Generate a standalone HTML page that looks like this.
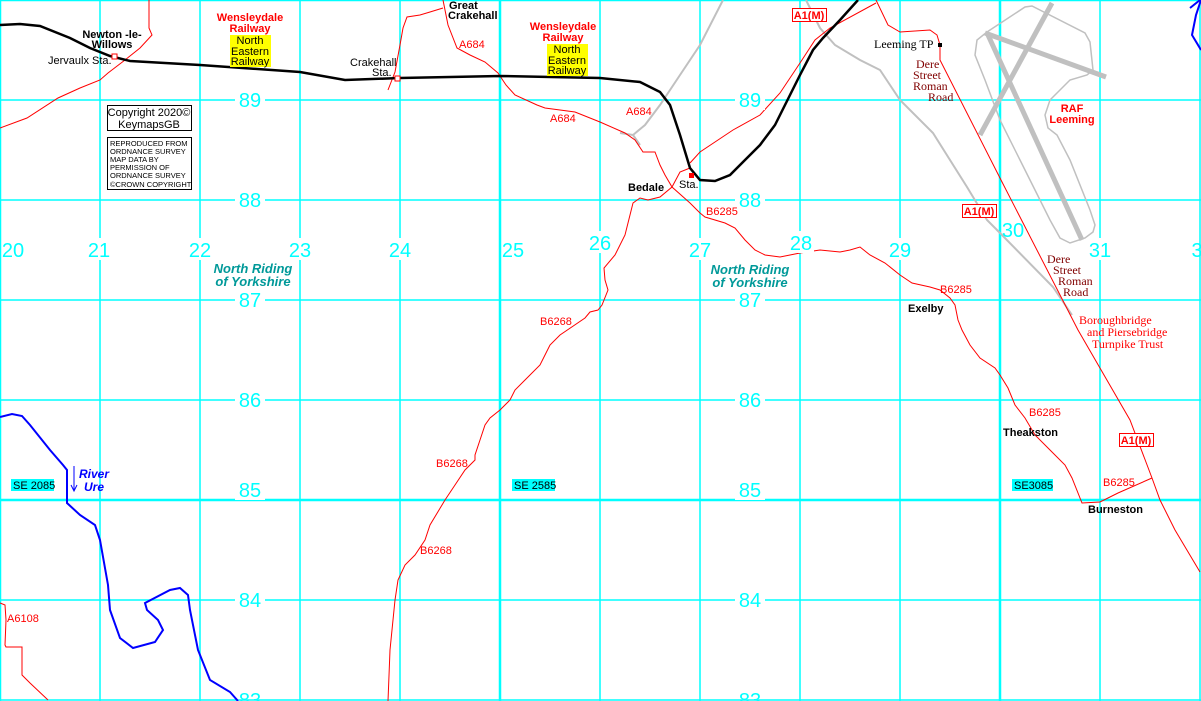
<!DOCTYPE html>
<html><head><meta charset="utf-8"><style>
html,body{margin:0;padding:0;background:#fff;}
svg{display:block;}
text{font-family:"Liberation Sans",sans-serif;}
.n{fill:#00ffff;font-size:20px;text-anchor:middle;}
.nb{fill:#fff;}
.r{fill:#ff0000;font-size:11px;}
.k{fill:#000;font-size:11px;font-weight:bold;}
.s{fill:#000;font-size:11px;}
.m text{fill:#800000;font-size:12px;font-family:"Liberation Serif",serif;}
.m2 text{fill:#ff0000;font-size:12px;font-family:"Liberation Serif",serif;}
</style></head><body>
<svg width="1201" height="701" viewBox="0 0 1201 701" xmlns="http://www.w3.org/2000/svg">
<rect width="1201" height="701" fill="#fff"/>
<g stroke="#00ffff" stroke-width="1.5">
<line x1="100" y1="0" x2="100" y2="701"/><line x1="200" y1="0" x2="200" y2="701"/><line x1="300" y1="0" x2="300" y2="701"/><line x1="400" y1="0" x2="400" y2="701"/><line x1="500" y1="0" x2="500" y2="701" stroke-width="2.5"/><line x1="600" y1="0" x2="600" y2="701"/><line x1="700" y1="0" x2="700" y2="701"/><line x1="800" y1="0" x2="800" y2="701"/><line x1="900" y1="0" x2="900" y2="701"/><line x1="1000" y1="0" x2="1000" y2="701" stroke-width="2.5"/><line x1="1100" y1="0" x2="1100" y2="701"/><line x1="1200" y1="0" x2="1200" y2="701"/><line x1="0.5" y1="0" x2="0.5" y2="701"/>
<line x1="0" y1="0.5" x2="1201" y2="0.5"/><line x1="0" y1="100" x2="1201" y2="100"/><line x1="0" y1="200" x2="1201" y2="200"/><line x1="0" y1="300" x2="1201" y2="300"/><line x1="0" y1="400" x2="1201" y2="400"/><line x1="0" y1="500" x2="1201" y2="500" stroke-width="2.5"/><line x1="0" y1="600" x2="1201" y2="600"/><line x1="0" y1="700" x2="1201" y2="700"/>
</g>
<g fill="none" stroke="#c0c0c0">
<path d="M987,32 L1025,7 L1032,6 L1085,33 L1090,42 L1093,70 L1087,75 L1070,80 L1050,100 L1045,115 L1048,128 L1057,135 L1070,160 L1090,210 L1095,225 L1093,232 L1085,238 L1070,243 L1060,238 L1050,220 L1040,200 L1020,160 L1000,120 L985,80 L975,55 L977,40 Z" stroke-width="1.5"/>
<path d="M985,33 L1106,77 M988,35 L1082,240 M1052,3 L980,135" stroke-width="5"/>
<path d="M723,0 L700,45 L680,75 L660,105 L645,125 L633,135 L640,145 M633,135 L620,133" stroke-width="2"/>
<path d="M806,0 L820,28 L835,45 L860,60 L880,70 L900,100 L933,133 L967,187 L987,220 L1000,233 L1053,287 L1072,315" stroke-width="2"/>
</g>
<g fill="none" stroke="#ff0000" stroke-width="1">
<path d="M0,128 L27,118 L58,98 L80,88 L100,80 L108,73 L125,60 L140,48 L152,35 L149,28 L149,0"/>
<path d="M388,90 L395,72 L400,45 L403,28 L407,17 L420,15 L430,12 L443,8"/>
<path d="M443,0 L445,10 L448,25 L457,48 L470,55 L485,62 L498,73 L506,85 L515,95 L537,105 L545,108 L575,112 L600,122 L625,133 L635,140 L643,152 L655,152 L660,165 L665,175 L672,187 L690,203 L700,213 L705,217 L725,223 L735,228 L745,240 L755,250 L765,255 L780,257 L790,255 L800,253 L820,250 L840,252 L850,250 L860,247 L870,255 L885,263 L900,275 L912,283 L930,287 L940,290 L950,298 L955,305 L958,320 L962,330 L970,345 L980,358 L995,368 L1000,375 L1008,388 L1015,405 L1025,418 L1035,435 L1050,450 L1065,465 L1072,478 L1082,503 L1100,502 L1118,493 L1152,478"/>
<path d="M690,163 L700,152 L733,130 L760,115 L780,93 L800,63 L815,40 L830,28 L876,3"/>
<path d="M876,0 L888,25 L900,32 L930,30 L937,35 L940,45 L940,60 L1001,180 L1078,330 L1130,420 L1152,478 L1160,500 L1175,530 L1200,572"/>
<path d="M690,168 L680,172 L672,187 L660,197 L648,200 L640,198 L633,203 L630,215 L625,235 L615,255 L604,268 L605,280 L608,290 L602,305 L598,310 L590,312 L585,318 L560,335 L550,345 L545,355 L540,365 L525,380 L515,390 L510,400 L500,410 L490,418 L485,425 L480,440 L475,455 L475,460 L465,470 L455,485 L445,500 L442,505 L430,525 L425,540 L415,555 L405,565 L398,580 L395,600 L390,650 L388,701"/>
<path d="M0,603 L5,605 L6,620 L5,645 L6,647 L22,647 L22,675 L30,683 L48,700"/>
</g>
<g fill="none" stroke="#0000ff" stroke-width="2">
<path d="M0,417 L12,414 L22,416 L30,425 L50,450 L63,465 L67,470 L67,503 L80,515 L95,525 L100,540 L108,585 L110,610 L120,638 L133,648 L155,642 L163,630 L158,620 L147,610 L145,603 L170,590 L180,588 L188,595 L190,610 L198,650 L210,680 L230,692 L238,701"/>
<path d="M1201,0 L1196,15 L1192,35 L1201,50"/>
<path d="M1200,0 L1190,8" />
</g>
<line x1="74" y1="466" x2="74" y2="490" stroke="#0000ff" stroke-width="1"/>
<path d="M71,485 L74,491 L77,485" fill="none" stroke="#0000ff"/>
<path d="M0,25 L20,24 L40,26 L70,38 L90,48 L110,56 L130,61 L200,65 L300,72 L345,80 L400,78 L500,76 L600,78 L640,82 L660,92 L670,105 L680,135 L690,168 L700,180 L715,181 L730,175 L745,160 L760,145 L775,125 L790,95 L800,75 L813,50 L823,38 L840,20 L858,0" fill="none" stroke="#000" stroke-width="2.5"/>
<rect x="112" y="54" width="5" height="5" fill="#fff" stroke="#ff0000"/>
<rect x="395" y="76" width="5" height="5" fill="#fff" stroke="#ff0000"/>
<rect x="689" y="173" width="5" height="5" fill="#ff0000"/>
<rect x="938" y="43" width="4" height="4" fill="#000"/>
<g>
<rect class="nb" x="235" y="88" width="30" height="22"/><rect class="nb" x="235" y="188" width="30" height="22"/><rect class="nb" x="235" y="288" width="30" height="22"/><rect class="nb" x="235" y="388" width="30" height="22"/><rect class="nb" x="235" y="478" width="30" height="22"/><rect class="nb" x="235" y="588" width="30" height="22"/>
<rect class="nb" x="735" y="88" width="30" height="22"/><rect class="nb" x="735" y="188" width="30" height="22"/><rect class="nb" x="735" y="288" width="30" height="22"/><rect class="nb" x="735" y="388" width="30" height="22"/><rect class="nb" x="735" y="478" width="30" height="22"/><rect class="nb" x="735" y="588" width="30" height="22"/>
<rect class="nb" x="186" y="238" width="28" height="22"/><rect class="nb" x="286" y="238" width="28" height="22"/><rect class="nb" x="386" y="238" width="28" height="22"/><rect class="nb" x="586" y="231" width="28" height="22"/><rect class="nb" x="686" y="238" width="28" height="22"/><rect class="nb" x="786" y="231" width="28" height="22"/><rect class="nb" x="886" y="238" width="28" height="22"/><rect class="nb" x="1086" y="238" width="28" height="22"/><rect class="nb" x="85" y="238" width="28" height="22"/>
</g>
<g>
<text x="250" y="107" class="n">89</text><text x="250" y="207" class="n">88</text><text x="250" y="307" class="n">87</text><text x="250" y="407" class="n">86</text><text x="250" y="497" class="n">85</text><text x="250" y="607" class="n">84</text><text x="250" y="707" class="n">83</text>
<text x="750" y="107" class="n">89</text><text x="750" y="207" class="n">88</text><text x="750" y="307" class="n">87</text><text x="750" y="407" class="n">86</text><text x="750" y="497" class="n">85</text><text x="750" y="607" class="n">84</text><text x="750" y="707" class="n">83</text>
<text x="13" y="257" class="n">20</text><text x="99" y="257" class="n">21</text><text x="200" y="257" class="n">22</text><text x="300" y="257" class="n">23</text><text x="400" y="257" class="n">24</text><text x="513" y="257" class="n">25</text><text x="600" y="250" class="n">26</text><text x="700" y="257" class="n">27</text><text x="801" y="250" class="n">28</text><text x="900" y="257" class="n">29</text><text x="1013" y="237" class="n">30</text><text x="1100" y="257" class="n">31</text><text x="1197" y="257" class="n">3</text>
</g>
<rect x="11" y="479" width="43" height="12" fill="#00ffff"/><text x="13" y="489" class="s">SE 2085</text>
<rect x="512" y="479" width="43" height="12" fill="#00ffff"/><text x="514" y="489" class="s">SE 2585</text>
<rect x="1012" y="479" width="41" height="12" fill="#00ffff"/><text x="1014" y="489" class="s">SE3085</text>
<rect x="107.5" y="105.5" width="84" height="25" fill="#fff" stroke="#000"/>
<text x="149" y="116" class="s" text-anchor="middle">Copyright 2020©</text>
<text x="149" y="128" class="s" text-anchor="middle">KeymapsGB</text>
<rect x="107.5" y="137.5" width="84" height="52" fill="#fff" stroke="#000"/>
<g fill="#000"><text x="110" y="146" font-size="7.5">REPRODUCED FROM</text><text x="110" y="154" font-size="7.5">ORDNANCE SURVEY</text><text x="110" y="162" font-size="7.5">MAP DATA BY</text><text x="110" y="170" font-size="7.5">PERMISSION OF</text><text x="110" y="178" font-size="7.5">ORDNANCE SURVEY</text><text x="110" y="187" font-size="7.5">©CROWN COPYRIGHT</text></g>
<text x="112" y="38" class="k" text-anchor="middle">Newton -le-</text><text x="112" y="48" class="k" text-anchor="middle">Willows</text>
<text x="48" y="64" class="s">Jervaulx Sta.</text>
<text x="350" y="66" class="s">Crakehall</text><text x="372" y="76" class="s">Sta.</text>
<text x="449" y="9" class="k">Great</text><text x="448" y="19" class="k">Crakehall</text>
<text x="250" y="21" class="r" font-weight="bold" text-anchor="middle">Wensleydale</text><text x="250" y="32" class="r" font-weight="bold" text-anchor="middle">Railway</text>
<rect x="230" y="35" width="41" height="32" fill="#ffff00"/><text x="250" y="44" class="s" text-anchor="middle">North</text><text x="250" y="55" class="s" text-anchor="middle">Eastern</text><text x="250" y="65" class="s" text-anchor="middle">Railway</text>
<text x="563" y="30" class="r" font-weight="bold" text-anchor="middle">Wensleydale</text><text x="563" y="41" class="r" font-weight="bold" text-anchor="middle">Railway</text>
<rect x="547" y="44" width="41" height="32" fill="#ffff00"/><text x="567" y="53" class="s" text-anchor="middle">North</text><text x="567" y="64" class="s" text-anchor="middle">Eastern</text><text x="567" y="74" class="s" text-anchor="middle">Railway</text>
<text x="459" y="48" class="r">A684</text><text x="550" y="122" class="r">A684</text><text x="626" y="115" class="r">A684</text>
<text x="628" y="191" class="k">Bedale</text><text x="679" y="188" class="s">Sta.</text>
<text x="706" y="215" class="r">B6285</text><text x="940" y="293" class="r">B6285</text><text x="1029" y="416" class="r">B6285</text><text x="1103" y="486" class="r">B6285</text>
<text x="540" y="325" class="r">B6268</text><text x="436" y="467" class="r">B6268</text><text x="420" y="554" class="r">B6268</text>
<text x="7" y="622" class="r">A6108</text>
<text x="908" y="312" class="k">Exelby</text><text x="1003" y="436" class="k">Theakston</text><text x="1088" y="513" class="k">Burneston</text>
<text x="874" y="48" font-size="12" fill="#000" style="font-family:'Liberation Serif',serif">Leeming TP</text>
<g class="m"><text x="916" y="68">Dere</text><text x="913" y="79">Street</text><text x="913" y="90">Roman</text><text x="928" y="101">Road</text>
<text x="1047" y="263">Dere</text><text x="1053" y="274">Street</text><text x="1058" y="285">Roman</text><text x="1063" y="296">Road</text></g>
<g class="m2"><text x="1079" y="324">Boroughbridge</text><text x="1087" y="336">and Piersebridge</text><text x="1092" y="348">Turnpike Trust</text></g>
<text x="1072" y="112" class="r" font-weight="bold" text-anchor="middle">RAF</text><text x="1072" y="123" class="r" font-weight="bold" text-anchor="middle">Leeming</text>
<text x="253" y="273" fill="#009999" font-size="13" font-style="italic" font-weight="bold" text-anchor="middle">North Riding</text><text x="253" y="286" fill="#009999" font-size="13" font-style="italic" font-weight="bold" text-anchor="middle">of Yorkshire</text>
<text x="750" y="274" fill="#009999" font-size="13" font-style="italic" font-weight="bold" text-anchor="middle">North Riding</text><text x="750" y="287" fill="#009999" font-size="13" font-style="italic" font-weight="bold" text-anchor="middle">of Yorkshire</text>
<text x="79" y="478" fill="#0000ff" font-size="12" font-style="italic" font-weight="bold">River</text><text x="84" y="491" fill="#0000ff" font-size="12" font-style="italic" font-weight="bold">Ure</text>
<g><rect x="792.5" y="8.5" width="34" height="13" fill="#fff" stroke="#ff0000"/><text x="809" y="19" class="r" font-weight="bold" text-anchor="middle">A1(M)</text>
<rect x="962.5" y="204.5" width="34" height="13" fill="#fff" stroke="#ff0000"/><text x="979" y="215" class="r" font-weight="bold" text-anchor="middle">A1(M)</text>
<rect x="1119.5" y="433.5" width="34" height="13" fill="#fff" stroke="#ff0000"/><text x="1136" y="444" class="r" font-weight="bold" text-anchor="middle">A1(M)</text></g>
</svg>
</body></html>
